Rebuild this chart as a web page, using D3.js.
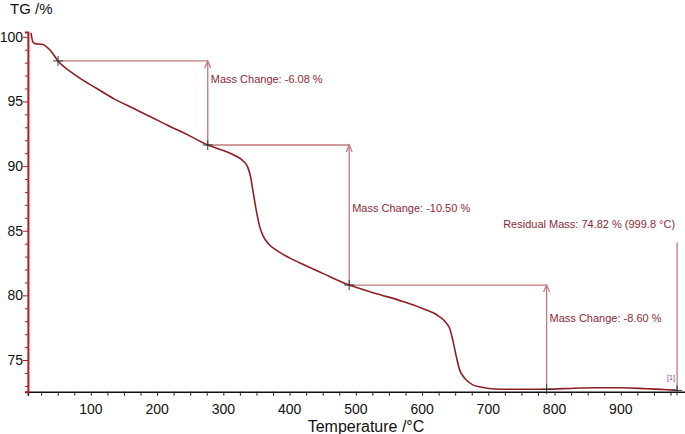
<!DOCTYPE html>
<html>
<head>
<meta charset="utf-8">
<script src="https://cdn.jsdelivr.net/npm/d3@7"></script>
<style>
  body { margin: 0; background: #fff; }
  svg { font-family: "Liberation Sans", Arial, sans-serif; display: block; }
</style>
</head>
<body>
<svg id="chart"></svg>
<script>
// TG curve (temperature in °C, mass in %)
const temps = [9.7, 11, 12.5, 16, 26, 38, 50.5, 75, 109, 135, 164, 190, 215, 245, 276.5, 300, 318, 330, 337, 341, 345, 350, 355, 360, 368, 380, 400, 420, 450, 490, 530, 570, 600, 625, 636, 642, 647, 652, 657, 662, 668, 676, 690, 705, 730, 788, 830, 860, 900, 940, 965, 985];
const tg = [100.3, 99.9, 99.6, 99.47, 99.42, 99.0, 98.13, 97.1, 96.0, 95.2, 94.47, 93.82, 93.18, 92.45, 91.63, 91.2, 90.8, 90.4, 89.9, 89.2, 88.0, 86.5, 85.3, 84.6, 84.0, 83.5, 82.9, 82.4, 81.7, 80.8, 80.15, 79.55, 79.0, 78.4, 77.9, 77.4, 76.4, 75.2, 74.2, 73.75, 73.4, 73.1, 72.9, 72.78, 72.74, 72.74, 72.82, 72.86, 72.86, 72.78, 72.72, 72.65];

// step evaluation markers
const markerTemps = [50.5, 276.5, 490, 788];
const markerValues = [98.13, 91.63, 80.8, 72.74];
const changeLabels = ["Mass Change: -6.08 %", "Mass Change: -10.50 %", "Mass Change: -8.60 %"];

// residual mass marker
const residualTemp = 985;
const residualValue = 72.65;
const residualTop = 84.1;
const residualLabel = "Residual Mass: 74.82 % (999.8 °C)";

const yTicks = [75, 80, 85, 90, 95, 100];
const xTicks = [100, 200, 300, 400, 500, 600, 700, 800, 900];

const W = 685, H = 434;
const svg = d3.select("#chart").attr("width", W).attr("height", H);

const x = d3.scaleLinear().domain([5, 1001]).range([27.9, 687.7]);
const y = d3.scaleLinear().domain([72.55, 100.37]).range([391.7, 32]);

const curveCol = "#8e1f24";
const annoCol = "#c27a7c";
const textCol = "#8e2a36";

// x axis
const xAxis = svg.append("g")
  .attr("transform", `translate(0,${y(72.55)})`)
  .call(d3.axisBottom(x).tickValues(d3.range(25, 1001, 25)).tickSize(4).tickFormat(""));
xAxis.select(".domain").attr("stroke", "#111").attr("stroke-width", 1.6);
xAxis.selectAll(".tick line").attr("stroke", "#222");

svg.append("g")
  .selectAll("text")
  .data(xTicks)
  .join("text")
  .attr("x", d => x(d))
  .attr("y", 414)
  .attr("text-anchor", "middle")
  .style("font-size", "14px")
  .attr("fill", "#111")
  .text(d => d);

svg.append("text")
  .attr("x", 366)
  .attr("y", 432)
  .attr("text-anchor", "middle")
  .style("font-size", "16px")
  .attr("fill", "#111")
  .text("Temperature /°C");

// y axis
const yAxis = svg.append("g")
  .attr("transform", `translate(${x(5)},0)`)
  .call(d3.axisLeft(y).tickValues(d3.range(73, 101, 1)).tickSize(3).tickFormat(""));
yAxis.select(".domain").attr("stroke", "#b3191f").attr("stroke-width", 2);
yAxis.selectAll(".tick line").attr("stroke", "#b3191f")
  .attr("x2", d => (d % 5 === 0 ? -5 : -3));

svg.append("g")
  .selectAll("text")
  .data(yTicks)
  .join("text")
  .attr("x", 23)
  .attr("y", d => y(d) + 5)
  .attr("text-anchor", "end")
  .style("font-size", "14px")
  .attr("fill", "#111")
  .text(d => d);

svg.append("text")
  .attr("x", 10)
  .attr("y", 14)
  .style("font-size", "15px")
  .attr("fill", "#111")
  .text("TG /%");

// annotation lines (drawn under the curve)
const anno = svg.append("g")
  .attr("stroke", annoCol)
  .attr("stroke-width", 1.3)
  .attr("fill", "none");

const labelDy = [22, 67, 37];
for (let i = 0; i < 3; i++) {
  const x0 = x(markerTemps[i]), x1 = x(markerTemps[i + 1]);
  const yTop = y(markerValues[i]), yBot = y(markerValues[i + 1]);
  anno.append("line").attr("x1", x0).attr("x2", x1).attr("y1", yTop).attr("y2", yTop);
  anno.append("line").attr("x1", x1).attr("x2", x1).attr("y1", yBot).attr("y2", yTop);
  anno.append("path").attr("d", `M${x1 - 3},${yTop + 7}L${x1},${yTop}L${x1 + 3},${yTop + 7}`);
  svg.append("text")
    .attr("x", x1 + 3)
    .attr("y", yTop + labelDy[i])
    .style("font-size", "11px")
    .attr("fill", textCol)
    .text(changeLabels[i]);
}

anno.append("line")
  .attr("x1", x(residualTemp)).attr("x2", x(residualTemp))
  .attr("y1", y(residualValue)).attr("y2", y(residualTop));

svg.append("text")
  .attr("x", x(residualTemp) - 2)
  .attr("y", 228)
  .attr("text-anchor", "end")
  .style("font-size", "11px")
  .attr("fill", textCol)
  .text(residualLabel);

svg.append("text")
  .attr("x", x(residualTemp) - 10)
  .attr("y", 380)
  .style("font-size", "7px")
  .attr("fill", "#8a3a8a")
  .text("[1]");

// TG curve
const line = d3.line()
  .x((d, i) => x(temps[i]))
  .y(d => y(d))
  .curve(d3.curveMonotoneX);

svg.append("path")
  .datum(tg)
  .attr("d", line)
  .attr("fill", "none")
  .attr("stroke", curveCol)
  .attr("stroke-width", 1.6);

// evaluation crosses
const crossT = markerTemps.concat([residualTemp]);
const crossV = markerValues.concat([residualValue]);
svg.append("g")
  .selectAll("path")
  .data(crossT)
  .join("path")
  .attr("d", (d, i) => {
    const cx = x(d), cy = y(crossV[i]);
    return `M${cx - 5},${cy}H${cx + 5}M${cx},${cy - 5}V${cy + 5}`;
  })
  .attr("stroke", "#333")
  .attr("stroke-width", 1);
</script>
</body>
</html>
